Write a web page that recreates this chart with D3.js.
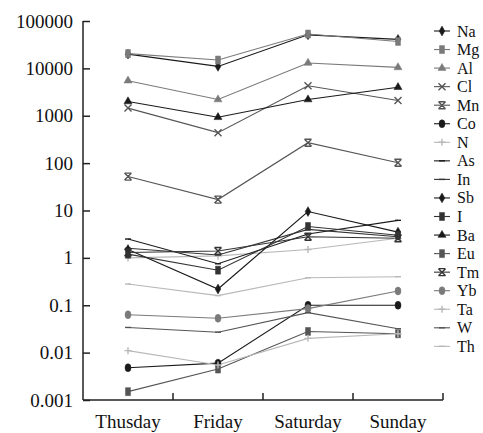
<!DOCTYPE html>
<html>
<head>
<meta charset="utf-8">
<script src="https://cdn.jsdelivr.net/npm/d3@7"></script>
<style>
  body { margin: 0; background: #fff; }
  text { font-family: "Liberation Serif", "DejaVu Serif", serif; fill: #111; }
</style>
</head>
<body>
<script>
let w = 483;
let h = 433;

let days = ['Thusday', 'Friday', 'Saturday', 'Sunday'];
let yTicks = [0.001, 0.01, 0.1, 1, 10, 100, 1000, 10000, 100000];

// values read off the log scale, one array per element
let Na = [20000, 11000, 51000, 41000];
let Mg = [20500, 15000, 53000, 37000];
let Al = [5500, 2200, 13000, 10500];
let Cl = [1450, 440, 4300, 2100];
let Mn = [52, 17, 270, 102];
let Co = [0.0048, 0.006, 0.1, 0.1];
let N = [1.0, 1.1, 1.5, 2.6];
let As = [2.5, 0.75, 3.2, 6.2];
let In = [1.6, 1.15, 4.0, 2.8];
let Sb = [1.5, 0.22, 9.5, 3.5];
let I = [1.2, 0.55, 4.6, 3.0];
let Ba = [2000, 930, 2200, 4000];
let Eu = [0.0015, 0.0045, 0.028, 0.025];
let Tm = [1.3, 1.4, 2.8, 2.6];
let Yb = [0.063, 0.053, 0.085, 0.2];
let Ta = [0.011, 0.0055, 0.02, 0.025];
let W = [0.034, 0.027, 0.07, 0.032];
let Th = [0.28, 0.16, 0.38, 0.4];

let dark = '#1a1a1a';
let mid = '#7a7a7a';
let light = '#b8b8b8';

let series = [
  { name: 'Na', values: Na, color: dark, shape: 'diamond' },
  { name: 'Mg', values: Mg, color: mid, shape: 'square' },
  { name: 'Al', values: Al, color: mid, shape: 'triangle' },
  { name: 'Cl', values: Cl, color: '#555', shape: 'x' },
  { name: 'Mn', values: Mn, color: '#555', shape: 'asterisk' },
  { name: 'Co', values: Co, color: dark, shape: 'circle' },
  { name: 'N', values: N, color: light, shape: 'plus' },
  { name: 'As', values: As, color: dark, shape: 'dash' },
  { name: 'In', values: In, color: '#333', shape: 'dash' },
  { name: 'Sb', values: Sb, color: dark, shape: 'diamond' },
  { name: 'I', values: I, color: '#333', shape: 'square' },
  { name: 'Ba', values: Ba, color: dark, shape: 'triangle' },
  { name: 'Eu', values: Eu, color: '#555', shape: 'square' },
  { name: 'Tm', values: Tm, color: '#333', shape: 'asterisk' },
  { name: 'Yb', values: Yb, color: mid, shape: 'circle' },
  { name: 'Ta', values: Ta, color: light, shape: 'plus' },
  { name: 'W', values: W, color: '#555', shape: 'dash' },
  { name: 'Th', values: Th, color: light, shape: 'dash' }
];

let plotLeft = 83, plotRight = 443, plotTop = 21, plotBottom = 400;

let xScale = d3.scaleBand().domain(days).range([plotLeft, plotRight]);
let yScale = d3.scaleLog().domain([0.001, 100000]).range([plotBottom, plotTop]);

let svg = d3.select('body')
  .append('svg')
  .attr('width', w)
  .attr('height', h);

let xc = (d) => { return xScale(d) + xScale.bandwidth() / 2; };

let symbolPath = (shape) => {
  switch (shape) {
    case 'diamond': return d3.symbol(d3.symbolDiamond, 28)();
    case 'square': return 'M-2.5,-4H2.5V4H-2.5Z';
    case 'triangle': return d3.symbol(d3.symbolTriangle, 28)();
    case 'circle': return 'M-3,0A3,4 0 1,0 3,0A3,4 0 1,0 -3,0Z';
    case 'x': return 'M-3.5,-3.5L3.5,3.5M-3.5,3.5L3.5,-3.5';
    case 'asterisk': return 'M-3.5,-3.5L3.5,3.5M-3.5,3.5L3.5,-3.5M-3.5,-3.5H3.5M-3.5,3.5H3.5';
    case 'plus': return 'M-3.5,0H3.5M0,-3.5V3.5';
    case 'dash': return 'M-3,0H3';
  }
};
let stroked = (shape) => { return ['x', 'asterisk', 'plus', 'dash'].includes(shape); };

// axes
let yAxis = d3.axisLeft(yScale)
  .tickValues(yTicks)
  .tickFormat((d) => { return String(d); })
  .tickSize(-7)
  .tickPadding(10);
let gy = svg.append('g')
  .attr('transform', 'translate(' + plotLeft + ',0)')
  .call(yAxis);
gy.select('.domain').attr('d', 'M0,' + plotTop + 'V' + plotBottom).attr('stroke', '#222').attr('stroke-width', 1.5);
gy.selectAll('.tick line').attr('stroke', '#222').attr('stroke-width', 1.5);
gy.selectAll('.tick text')
  .attr('font-size', '19px')
  .attr('font-family', '"Liberation Serif", serif')
  .attr('fill', '#111');

let gx = svg.append('g')
  .attr('transform', 'translate(0,' + plotBottom + ')');
gx.append('line')
  .attr('x1', plotLeft).attr('x2', plotRight)
  .attr('stroke', '#222').attr('stroke-width', 1.5);
gx.selectAll('.btick')
  .data(days)
  .enter()
  .append('line')
  .attr('x1', (d) => { return xScale(d) + xScale.bandwidth(); })
  .attr('x2', (d) => { return xScale(d) + xScale.bandwidth(); })
  .attr('y1', 0).attr('y2', -7)
  .attr('stroke', '#222').attr('stroke-width', 1.5);
gx.selectAll('text')
  .data(days)
  .enter()
  .append('text')
  .text((d) => { return d; })
  .attr('x', xc)
  .attr('y', 28)
  .attr('text-anchor', 'middle')
  .attr('font-size', '19px');

// lines
let line = d3.line()
  .x((d, i) => { return xc(days[i]); })
  .y((d) => { return yScale(d); });

svg.selectAll('.series')
  .data(series)
  .enter()
  .append('path')
  .attr('d', (s) => { return line(s.values); })
  .attr('fill', 'none')
  .attr('stroke', (s) => { return s.color; })
  .attr('stroke-width', 1.1);

series.forEach((s) => {
  svg.selectAll('.m-' + s.name)
    .data(s.values)
    .enter()
    .append('path')
    .attr('transform', (d, i) => { return 'translate(' + xc(days[i]) + ',' + yScale(d) + ')'; })
    .attr('d', symbolPath(s.shape))
    .attr('fill', stroked(s.shape) ? 'none' : s.color)
    .attr('stroke', s.color)
    .attr('stroke-width', stroked(s.shape) ? 1.4 : 0.5);
});

// legend
let legend = svg.append('g');
let item = legend.selectAll('g')
  .data(series)
  .enter()
  .append('g')
  .attr('transform', (s, i) => { return 'translate(442,' + (31 + i * 18.55) + ')'; });
item.append('rect')
  .attr('x', -10).attr('y', -9).attr('width', 49).attr('height', 18)
  .attr('fill', '#fff');
item.append('line')
  .attr('x1', -8).attr('x2', 8)
  .attr('stroke', (s) => { return s.color; })
  .attr('stroke-width', 1.1);
item.append('path')
  .attr('d', (s) => { return symbolPath(s.shape); })
  .attr('fill', (s) => { return stroked(s.shape) ? 'none' : s.color; })
  .attr('stroke', (s) => { return s.color; })
  .attr('stroke-width', (s) => { return stroked(s.shape) ? 1.4 : 0.5; });
item.append('text')
  .text((s) => { return s.name; })
  .attr('x', 15)
  .attr('y', 5.5)
  .attr('font-size', '16px');
</script>
</body>
</html>
